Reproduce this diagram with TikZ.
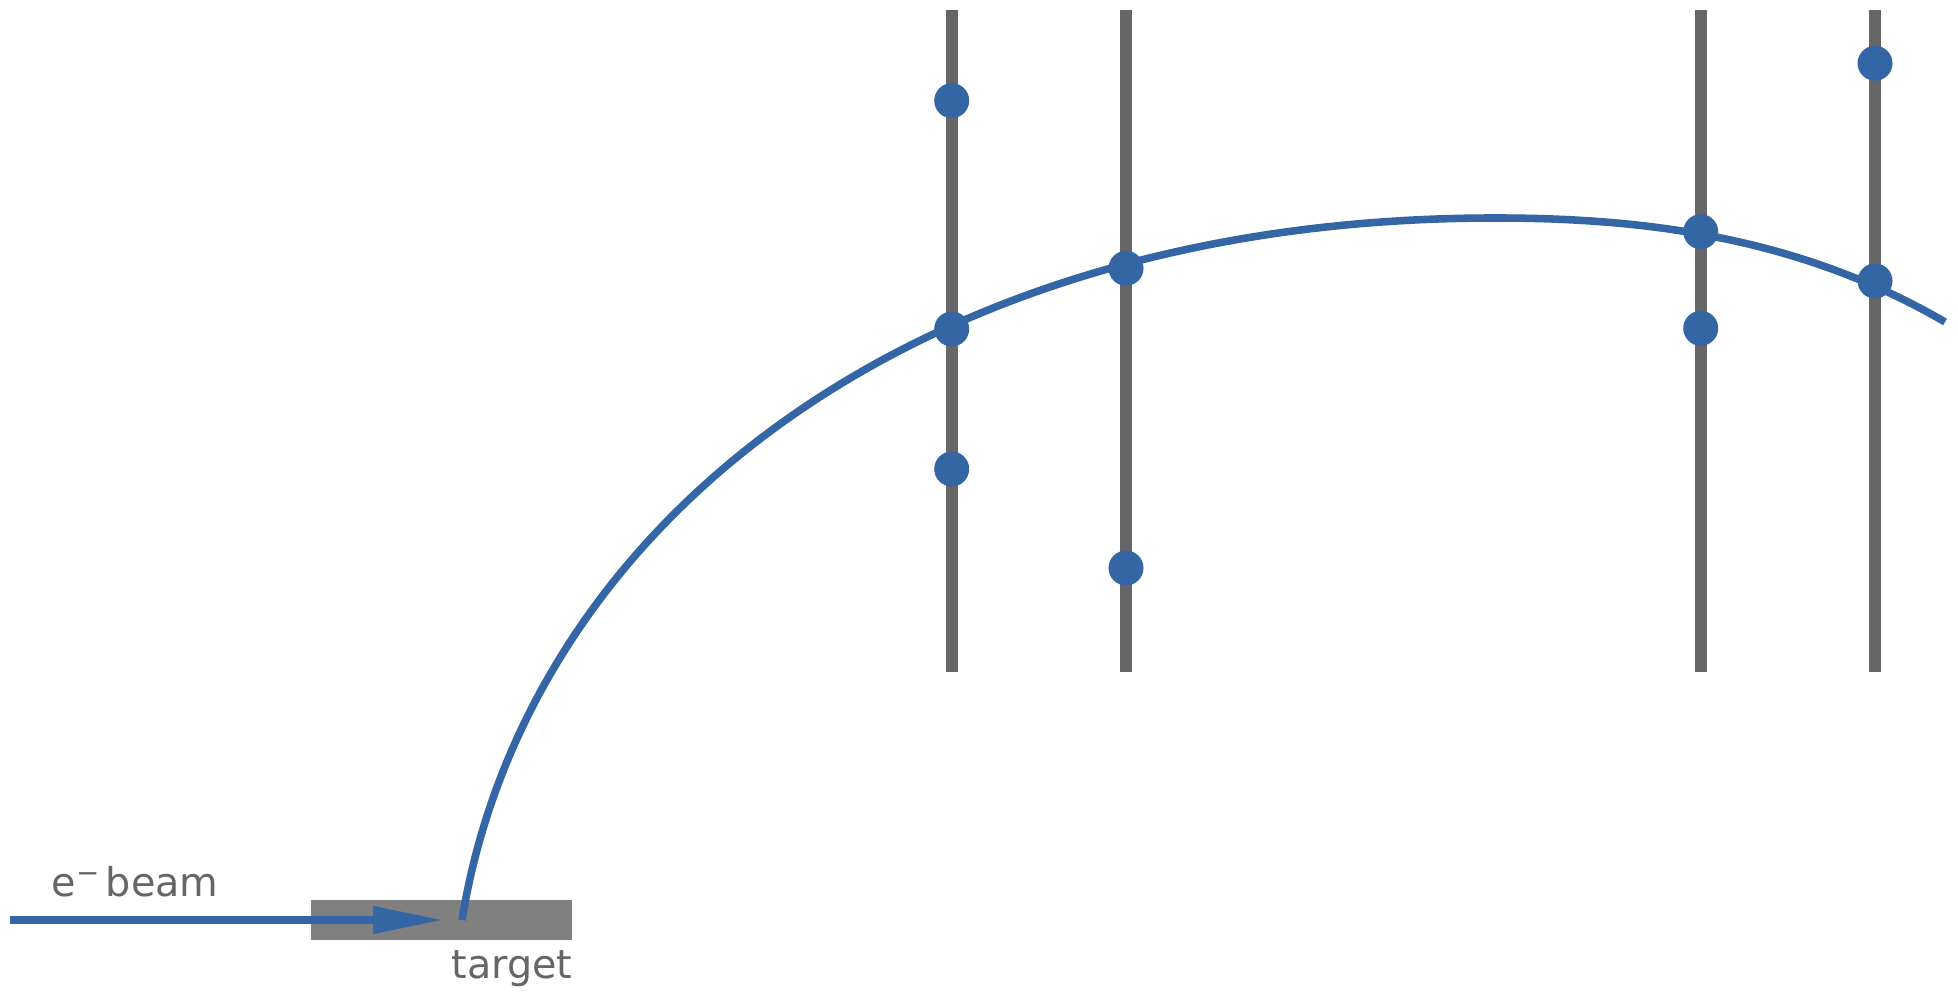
\documentclass[tikz,border=0pt]{standalone}
\usepackage{fontspec}
\setmainfont{DejaVu Sans}
\usetikzlibrary{arrows.meta}

\definecolor{trackblue}{RGB}{52,102,166}
\definecolor{layergray}{RGB}{102,102,102}
\definecolor{targetgray}{RGB}{128,128,128}

\begin{document}
\begin{tikzpicture}[
    x=1cm,
    y=1cm,
    layer/.style={
        draw=none,
        fill=layergray,
        minimum width=0.117cm,
        minimum height=6.62cm,
        inner sep=0pt
    },
    hit/.style={
        circle,
        fill=trackblue,
        minimum size=0.35cm,
        inner sep=0pt
    },
    slab/.style={
        draw=none,
        fill=targetgray,
        minimum width=2.61cm,
        minimum height=0.40cm,
        inner sep=0pt
    },
    label/.style={
        anchor=base west,
        inner sep=0pt,
        text=layergray,
        font=\fontsize{11.3}{13}\selectfont
    },
    beam/.style={-{Triangle[length=0.70cm,width=0.26cm]}, draw=trackblue, line width=2.15pt},
    track/.style={draw=trackblue, line width=2.15pt}
]

\useasboundingbox (0,0) rectangle (19.58,9.93);

\node[layer] (layer1) at (9.517,6.524) {};
\node[layer] (layer2) at (11.26,6.524) {};
\node[layer] (layer3) at (17.007,6.524) {};
\node[layer] (layer4) at (18.75,6.524) {};

\node[slab] (target) at (4.415,0.73) {};
\node[label] (targetlabel) at (4.51,0.15) {target};
\node[label] (beamlabel) at (0.51,0.97) {e\textsuperscript{−}\hspace{0.12em}beam};

\coordinate (gun) at (0.10,0.73);
\coordinate (tip) at (4.43,0.73);
\coordinate (vertex) at (4.62,0.73);
\coordinate (apex) at (14.95,7.75);
\coordinate (exit) at (19.45,6.71);

\draw[beam] (gun) -- (tip);
\draw[track] (vertex) .. controls (5.25,4.61) and (9.05,7.75) .. (apex)
    .. controls (16.45,7.75) and (17.99,7.56) .. (exit);

\node[hit] (hit11) at (9.517,8.923) {};
\node[hit] (hit12) at (9.517,6.64) {};
\node[hit] (hit13) at (9.517,5.24) {};
\node[hit] (hit21) at (11.26,7.247) {};
\node[hit] (hit22) at (11.26,4.25) {};
\node[hit] (hit31) at (17.007,7.613) {};
\node[hit] (hit32) at (17.007,6.647) {};
\node[hit] (hit41) at (18.75,9.297) {};
\node[hit] (hit42) at (18.75,7.12) {};

\end{tikzpicture}
\end{document}
